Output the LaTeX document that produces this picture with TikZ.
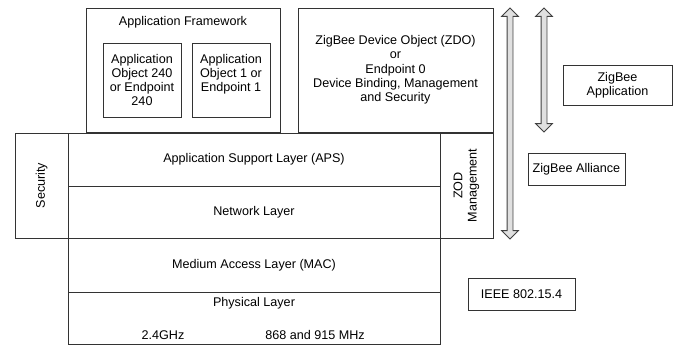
\documentclass[tikz,border=0pt]{standalone}
\usepackage{fontspec}
\setmainfont{Liberation Sans}
\usetikzlibrary{shapes.arrows}

\tikzset{
	box/.style={draw=black!80, line width=0.9pt, inner sep=0pt, align=center},
	txt/.style={inner sep=0pt, align=center},
	updown/.style={double arrow, draw=black!75, fill=black!12, line width=0.8pt,
		inner xsep=0pt, inner ysep=2.5pt, double arrow head extend=5.5pt, rotate=90}
}

\begin{document}
\begin{tikzpicture}[x=1pt, y=-1pt, font=\fontsize{12.6}{14.3}\selectfont]
	\useasboundingbox (0,0) rectangle (677,345);

	% upper part
	\node [box, minimum width=194pt, minimum height=124pt] (AF) at (183,70) {};
	\node [txt] (AFl) at (183,22) {Application Framework};
	\node [box, minimum width=78pt, minimum height=74pt] (O240) at (142,80) {Application\\Object 240\\or Endpoint\\240};
	\node [box, minimum width=78pt, minimum height=74pt] (O1) at (231,80) {Application\\Object 1 or\\Endpoint 1\\~};
	\node [box, minimum width=195pt, minimum height=124pt] (ZDO) at (395.5,70) {ZigBee Device Object (ZDO)\\or\\Endpoint 0\\Device Binding, Management\\and Security};

	% stack
	\node [box, rotate=90, minimum width=105pt, minimum height=53pt] (SEC) at (41.5,185.5) {Security};
	\node [box, minimum width=372pt, minimum height=53pt] (APS) at (254,159.5) {Application Support Layer (APS)};
	\node [box, minimum width=372pt, minimum height=52pt] (NWK) at (254,212) {Network Layer};
	\node [box, rotate=90, minimum width=105pt, minimum height=53pt] (ZOD) at (466.5,185.5) {ZOD\\Management};
	\node [box, minimum width=372pt, minimum height=54pt] (MAC) at (254,265) {Medium Access Layer (MAC)};
	\node [box, minimum width=372pt, minimum height=52pt] (PHY) at (254,318) {};
	\node [txt] (PHYl) at (254,303) {Physical Layer};
	\node [txt] (f24) at (163,335) {2.4GHz};
	\node [txt] (f868) at (315,335) {868 and 915 MHz};

	% right side
	\node [updown, minimum height=231pt] (spanA) at (510,123.5) {};
	\node [updown, minimum height=124pt] (spanB) at (544,70) {};
	\node [box, minimum width=109pt, minimum height=40pt] (ZBA) at (617.5,85) {ZigBee\\Application};
	\node [box, minimum width=97pt, minimum height=32pt] (ZBall) at (576.5,169) {ZigBee Alliance};
	\node [box, minimum width=107pt, minimum height=32pt] (IEEE) at (521.5,294) {IEEE 802.15.4};

\end{tikzpicture}
\end{document}
